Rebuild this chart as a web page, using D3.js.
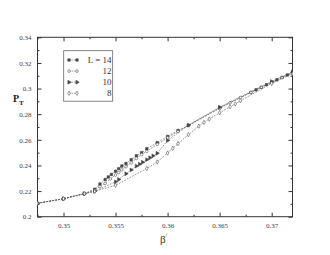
<!DOCTYPE html>
<html><head><meta charset="utf-8">
<script src="https://cdn.jsdelivr.net/npm/d3@7/dist/d3.min.js"></script>
<style>body{margin:0;background:#fff}svg{display:block}text{font-family:"Liberation Serif","DejaVu Serif",serif}</style>
</head><body><svg id="c" width="330" height="255"></svg>
<script>
const seriesNames = ["L = 14", "12", "10", "8"];
const beta14 = [0.3475,0.35,0.352,0.353,0.3535,0.354,0.3543,0.3546,0.355,0.3553,0.3556,0.356,0.3565,0.357,0.3575,0.358,0.359,0.36,0.361,0.362,0.365,0.368,0.3685,0.369,0.3695,0.37,0.3705,0.371,0.3715,0.372];
const p14 =    [0.2105,0.214,0.218,0.2215,0.2255,0.229,0.231,0.233,0.2355,0.2375,0.2395,0.2415,0.2445,0.2475,0.25,0.253,0.2578,0.2627,0.2673,0.2712,0.285,0.297,0.299,0.301,0.303,0.305,0.3068,0.3088,0.3106,0.3125];
const beta12 = [0.3475,0.35,0.352,0.353,0.3535,0.354,0.3545,0.355,0.3553,0.3556,0.356,0.3565,0.357,0.3575,0.358,0.359,0.36,0.361,0.362,0.365,0.366,0.367,0.368,0.369,0.37,0.371,0.372];
const p12 =    [0.2105,0.214,0.218,0.2208,0.2235,0.226,0.2295,0.2325,0.2345,0.2365,0.239,0.242,0.2455,0.2485,0.251,0.2565,0.2615,0.2665,0.2712,0.2845,0.2888,0.293,0.297,0.301,0.3045,0.3085,0.3122];
const beta10 = [0.3475,0.35,0.352,0.353,0.355,0.3553,0.356,0.3565,0.357,0.3573,0.3576,0.358,0.3583,0.3586,0.359,0.36,0.362,0.365,0.37,0.372];
const p10 =    [0.2105,0.214,0.218,0.2198,0.2272,0.229,0.2335,0.2365,0.2395,0.241,0.2425,0.2445,0.246,0.2475,0.2495,0.2595,0.2715,0.2855,0.3055,0.313];
const beta8 =  [0.3475,0.35,0.352,0.353,0.355,0.358,0.359,0.36,0.3605,0.361,0.362,0.363,0.3635,0.364,0.365,0.366,0.3665,0.367,0.37,0.372];
const p8 =     [0.2105,0.214,0.218,0.2198,0.2245,0.2376,0.2427,0.2497,0.2534,0.257,0.264,0.2707,0.2736,0.2762,0.2811,0.2858,0.288,0.2905,0.3041,0.3115];
const xTicks = [0.35,0.355,0.36,0.365,0.37];
const xTickLabels = ["0.35","0.355","0.36","0.365","0.37"];
const yTicks = [0.2,0.22,0.24,0.26,0.28,0.3,0.32,0.34];
const yTickLabels = ["0.2","0.22","0.24","0.26","0.28","0.3","0.32","0.34"];

const svg = d3.select("#c");
const L = 37.5, R = 292.5, T = 37.3, B = 216.7;
const x = d3.scaleLinear().domain([0.3475,0.372]).range([L,R]);
const y = d3.scaleLinear().domain([0.2,0.34]).range([B,T]);

svg.append("rect").attr("x",L).attr("y",T).attr("width",R-L).attr("height",B-T)
  .attr("fill","none").attr("stroke","#333").attr("stroke-width",1);

const fmt = (arr,labels)=> (d)=> labels[arr.indexOf(d)] ?? "";
const xMinor = d3.range(0.3475,0.3721,0.0025).filter(v=>!xTicks.some(t=>Math.abs(t-v)<1e-6));
const yMinor = d3.range(0.21,0.34,0.02);
function axes(){
  svg.append("g").attr("transform",`translate(0,${B})`)
    .call(d3.axisBottom(x).tickValues(xTicks).tickFormat(fmt(xTicks,xTickLabels)).tickSizeInner(-4).tickSizeOuter(0).tickPadding(6));
  svg.append("g").attr("transform",`translate(0,${T})`)
    .call(d3.axisTop(x).tickValues(xTicks).tickFormat("").tickSizeInner(-4).tickSizeOuter(0));
  svg.append("g").attr("transform",`translate(${L},0)`)
    .call(d3.axisLeft(y).tickValues(yTicks).tickFormat(fmt(yTicks,yTickLabels)).tickSizeInner(-4).tickSizeOuter(0).tickPadding(6));
  svg.append("g").attr("transform",`translate(${R},0)`)
    .call(d3.axisRight(y).tickValues(yTicks).tickFormat("").tickSizeInner(-4).tickSizeOuter(0));
  svg.append("g").attr("transform",`translate(0,${B})`).call(d3.axisBottom(x).tickValues(xMinor).tickFormat("").tickSizeInner(-2).tickSizeOuter(0));
  svg.append("g").attr("transform",`translate(0,${T})`).call(d3.axisTop(x).tickValues(xMinor).tickFormat("").tickSizeInner(-2).tickSizeOuter(0));
  svg.append("g").attr("transform",`translate(${L},0)`).call(d3.axisLeft(y).tickValues(yMinor).tickFormat("").tickSizeInner(-2).tickSizeOuter(0));
  svg.append("g").attr("transform",`translate(${R},0)`).call(d3.axisRight(y).tickValues(yMinor).tickFormat("").tickSizeInner(-2).tickSizeOuter(0));
  svg.selectAll(".domain").remove();
  svg.selectAll(".tick line").attr("stroke","#333");
  svg.selectAll(".tick text").attr("font-size","7px").attr("fill","#444")
    .style("font-family","'Liberation Serif','DejaVu Serif',serif");
}
axes();

svg.append("clipPath").attr("id","cp").append("rect").attr("x",L).attr("y",T).attr("width",R-L).attr("height",B-T);
const plot = svg.append("g").attr("clip-path","url(#cp)");

const sym = [
  {type:d3.symbolSquare, fill:"#444", size:6},
  {type:d3.symbolCircle, fill:"#fff", size:5.5},
  {type:d3.symbolTriangle, fill:"#444", size:6.5, rot:90},
  {type:d3.symbolDiamond, fill:"#fff", size:5.5}
];
const allData = [[beta14,p14],[beta12,p12],[beta10,p10],[beta8,p8]];
const line = d3.line().x(d=>x(d[0])).y(d=>y(d[1]));
allData.forEach(([bx,py],i)=>{
  const pts = bx.map((b,j)=>[b,py[j]]);
  plot.append("path").datum(pts).attr("d",line).attr("fill","none")
    .attr("stroke","#555").attr("stroke-width",0.6).attr("stroke-dasharray","1.8,1.2");
  const s = sym[i];
  plot.selectAll(null).data(pts).enter().append("path")
    .attr("d",d3.symbol().type(s.type).size(s.size))
    .attr("transform",d=>`translate(${x(d[0])},${y(d[1])})${s.rot?` rotate(${s.rot})`:""}`)
    .attr("fill",s.fill).attr("stroke","#444").attr("stroke-width",0.55);
});

const lg = svg.append("g");
lg.append("rect").attr("x",63.7).attr("y",50.7).attr("width",49).attr("height",50.5)
  .attr("fill","#fff").attr("stroke","#666").attr("stroke-width",0.8);
seriesNames.forEach((n,i)=>{
  const yy = 60 + i*11.1;
  lg.append("line").attr("x1",69).attr("x2",77).attr("y1",yy).attr("y2",yy)
    .attr("stroke","#555").attr("stroke-width",0.6).attr("stroke-dasharray","1.5,1");
  const s = sym[i];
  [69,77].forEach(xx=>lg.append("path").attr("d",d3.symbol().type(s.type).size(s.size))
    .attr("transform",`translate(${xx},${yy})${s.rot?` rotate(${s.rot})`:""}`)
    .attr("fill",s.fill).attr("stroke","#444").attr("stroke-width",0.55));
  lg.append("text").attr("x",111.5).attr("y",yy+3).attr("text-anchor","end")
    .attr("font-size","9px").attr("fill","#333").text(n);
});

const yl = svg.append("text").attr("x",13).attr("y",102).attr("font-size","10px").attr("font-weight","bold").attr("fill","#222");
yl.append("tspan").text("P");
yl.append("tspan").attr("dy",3).attr("font-size","7px").text("T");
const xl = svg.append("text").attr("x",160).attr("y",243).attr("font-size","11px").attr("fill","#333");
xl.append("tspan").text("β");
xl.append("tspan").attr("dy",-6).attr("font-size","6px").text("/");
</script></body></html>
